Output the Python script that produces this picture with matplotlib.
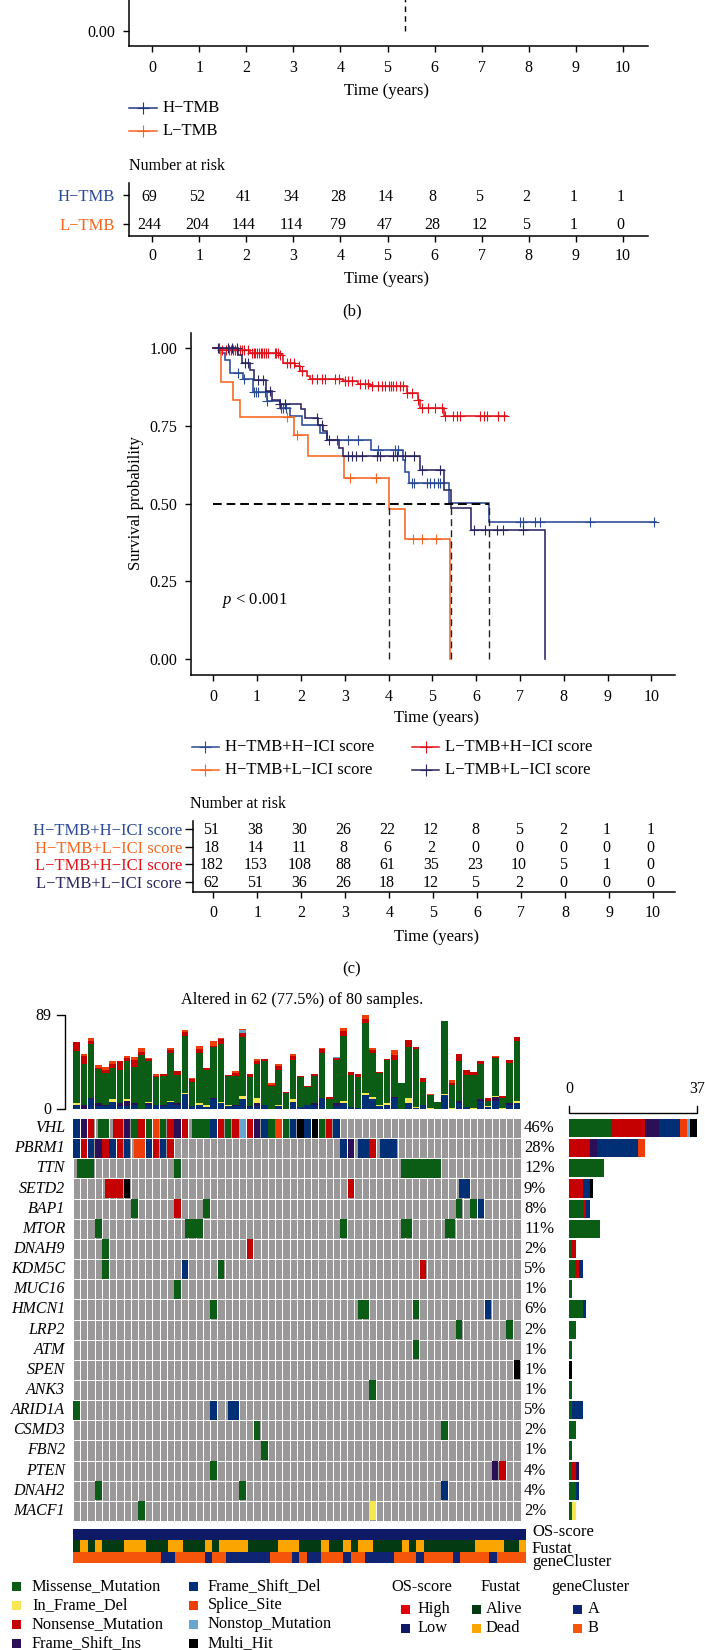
import numpy as np
import matplotlib
matplotlib.use("Agg")
import matplotlib.pyplot as plt
from matplotlib.colors import ListedColormap
from matplotlib.patches import Rectangle

plt.rcParams["font.family"] = ["Liberation Serif", "DejaVu Serif"]
plt.rcParams["mathtext.fontset"] = "custom"
plt.rcParams["mathtext.rm"] = "Liberation Serif"
plt.rcParams["mathtext.it"] = "Liberation Serif:italic"
plt.rcParams["axes.unicode_minus"] = False

W, H = 705, 1650
C_BLUE = "#2a4a96"
C_ORANGE = "#f6651f"
C_RED = "#e0121b"
C_DARK = "#2b2660"

years = np.arange(0, 11)

# panel b number at risk
b_names = ["H\u2212TMB", "L\u2212TMB"]
b_risk_h = [69, 52, 41, 34, 28, 14, 8, 5, 2, 1, 1]
b_risk_l = [244, 204, 144, 114, 79, 47, 28, 12, 5, 1, 0]
b_median = 5.38

# panel c curves
blue_t = [0, .15, .27, .38, .67, .90, 1.22, 1.52, 1.75, 2.02, 2.44, 2.59, 3.60, 4.34, 4.38, 4.46, 5.38, 6.30, 10.1]
blue_s = [1, .984, .960, .920, .900, .857, .831, .807, .780, .753, .727, .703, .673, .641, .601, .567, .502, .441, .441]
blue_c = [.12, .57, .69, .93, .97, 1.03, 1.18, 1.22, 1.54, 1.6, 1.66, 2.82, 3.08, 3.31, 3.77, 4.15, 4.21, 4.53, 4.58,
          4.87, 4.95, 5.04, 5.12, 5.18, 7.0, 7.08, 7.35, 7.46, 8.6, 10.05]

orange_t = [0, .17, .46, .61, 1.85, 2.15, 2.99, 4.0, 4.38, 5.41]
orange_s = [1, .889, .833, .779, .719, .654, .581, .483, .387, 0]
orange_c = [1.68, 1.92, 3.11, 3.72, 4.55, 4.76, 5.09]

red_t = [0, .15, .84, 1.52, 1.60, 1.87, 1.98, 2.13, 2.21, 2.97, 3.31, 3.58, 4.42, 4.68, 4.72, 5.26, 6.70]
red_s = [1, .992, .984, .976, .952, .941, .925, .909, .901, .894, .885, .877, .855, .834, .807, .782, .782]
red_c = [.2, .3, .35, .4, .45, .5, .55, .6, .65, .7, .8, .88, .92, .96, 1.0, 1.04, 1.08, 1.12, 1.16, 1.2, 1.25,
         1.4, 1.44, 1.48, 1.52, 1.68, 1.75, 1.85, 1.95, 2.02, 2.25, 2.36, 2.48, 2.55, 2.78, 2.86, 3.01, 3.08, 3.16,
         3.35, 3.47, 3.54, 3.62, 3.77, 3.85, 3.92, 4.0, 4.05, 4.11, 4.17, 4.26, 4.34, 4.42, 4.53, 4.68, 4.76, 4.91,
         5.06, 5.22, 5.3, 5.48, 5.56, 5.64, 6.09, 6.17, 6.25, 6.51, 6.63]

dark_t = [0, .57, .65, .84, .93, 1.20, 1.33, 1.52, 2.0, 2.09, 2.40, 2.51, 2.59, 2.86, 2.97, 4.72, 5.26, 5.42, 5.88, 7.58]
dark_s = [1, .978, .952, .930, .896, .861, .834, .820, .804, .775, .753, .732, .705, .678, .653, .607, .544, .486, .416, 0]
dark_c = [.11, .34, .43, .53, .72, .80, 1.03, 1.13, 1.29, 1.52, 1.64, 2.36, 2.48, 2.63, 3.08, 3.16, 3.26, 3.39, 3.73,
          3.81, 4.10, 4.19, 4.38, 4.57, 4.76, 5.18, 5.94, 6.21, 6.47, 6.61, 7.07]

median_times = [4.0, 5.42, 6.30]

c_names = ["H\u2212TMB+H\u2212ICI score", "H\u2212TMB+L\u2212ICI score", "L\u2212TMB+H\u2212ICI score", "L\u2212TMB+L\u2212ICI score"]
c_risk_hh = [51, 38, 30, 26, 22, 12, 8, 5, 2, 1, 1]
c_risk_hl = [18, 14, 11, 8, 6, 2, 0, 0, 0, 0, 0]
c_risk_lh = [182, 153, 108, 88, 61, 35, 23, 10, 5, 1, 0]
c_risk_ll = [62, 51, 36, 26, 18, 12, 5, 2, 0, 0, 0]

# oncoplot
genes = ["VHL", "PBRM1", "TTN", "SETD2", "BAP1", "MTOR", "DNAH9", "KDM5C", "MUC16", "HMCN1",
         "LRP2", "ATM", "SPEN", "ANK3", "ARID1A", "CSMD3", "FBN2", "PTEN", "DNAH2", "MACF1"]
gene_pct = [46, 28, 12, 9, 8, 11, 2, 5, 1, 6, 2, 1, 1, 1, 5, 2, 1, 4, 4, 2]
gene_hits = [
    {"M": [3, 4, 8, 10, 12, 16, 17, 18, 21, 27, 29, 34], "N": [2, 5, 6, 9, 13, 15, 20, 22, 24, 35], "I": [1, 7, 14, 25],
     "F": [0, 19, 26, 30, 32, 36], "S": [11, 28], "O": [23], "H": [31, 33]},
    {"N": [1, 4, 6, 11, 13, 41], "I": [3, 38], "F": [0, 2, 5, 7, 10, 12, 37, 39, 40, 42, 43, 44], "S": [8, 9]},
    {"M": [0, 1, 2, 14, 45, 46, 47, 48, 49, 50]},
    {"N": [4, 5, 6, 38], "F": [53, 54], "H": [7]},
    {"M": [8, 18, 53, 55], "N": [14], "F": [56]},
    {"M": [3, 15, 16, 17, 37, 45, 46, 51, 52]},
    {"M": [4], "N": [24]},
    {"M": [4, 20], "N": [48], "F": [15]},
    {"M": [14]},
    {"M": [19, 39, 40, 47], "F": [57]},
    {"M": [53, 60]},
    {"M": [47]},
    {"H": [61]},
    {"M": [41]},
    {"M": [0], "F": [19, 21, 22]},
    {"M": [25, 51]},
    {"M": [26]},
    {"M": [19], "N": [59], "I": [58]},
    {"M": [3, 23], "F": [51]},
    {"M": [9], "Y": [41]},
]
n_samples = 62

# mutation burden per sample
tmb_F = [4, 0, 9, 3, 3, 7, 3, 3, 4, 0, 4, 4, 3, 7, 4, 14, 3, 4, 2, 9, 6, 3, 3, 9, 2, 3, 4, 0, 3, 0, 7,
         2, 4, 4, 10, 0, 3, 6, 2, 1, 13, 9, 3, 4, 10, 0, 6, 1, 4, 0, 0, 13, 0, 6, 2, 0, 8, 2, 8, 0, 4, 6]
tmb_I = [0, 4, 1, 3, 1, 0, 3, 5, 2, 0, 2, 0, 1, 0, 2, 0, 0, 0, 0, 1, 0, 0, 1, 0, 1, 3, 0, 0, 0, 0, 0,
         0, 0, 2, 0, 0, 3, 0, 0, 0, 0, 0, 0, 0, 1, 0, 0, 0, 0, 0, 0, 0, 0, 2, 0, 0, 1, 0, 3, 0, 2, 0]
tmb_Y = [2, 0, 0, 0, 0, 2, 0, 1, 0, 0, 1, 0, 0, 1, 0, 1, 0, 2, 2, 0, 1, 1, 0, 3, 0, 4, 0, 0, 1, 0, 2,
         0, 0, 0, 0, 0, 0, 2, 0, 0, 2, 2, 1, 2, 0, 0, 4, 1, 0, 1, 0, 1, 1, 0, 0, 1, 0, 1, 1, 1, 0, 2]
tmb_M = [49, 39, 52, 32, 30, 30, 31, 36, 34, 51, 38, 26, 27, 45, 26, 54, 23, 47, 33, 49, 55, 27, 27, 56, 27, 33, 41, 22, 33, 15, 37,
         28, 17, 25, 43, 9, 40, 61, 30, 29, 66, 42, 30, 40, 35, 25, 49, 55, 22, 12, 7, 69, 22, 37, 30, 31, 34, 5, 36, 9, 38, 56]
tmb_N = [8, 7, 2, 1, 3, 4, 8, 3, 6, 3, 2, 1, 2, 3, 4, 4, 2, 4, 2, 1, 4, 1, 3, 4, 3, 2, 2, 1, 4, 1, 4,
         1, 1, 2, 4, 2, 2, 5, 3, 3, 4, 3, 1, 1, 5, 0, 6, 2, 3, 0, 0, 0, 2, 7, 5, 3, 2, 2, 1, 2, 2, 4]
tmb_S = [0, 2, 3, 3, 3, 2, 0, 2, 3, 4, 1, 2, 0, 2, 0, 2, 1, 3, 0, 4, 1, 0, 2, 1, 0, 2, 0, 2, 2, 0, 2,
         0, 0, 0, 1, 0, 0, 3, 0, 0, 4, 2, 0, 0, 5, 0, 0, 0, 0, 1, 0, 0, 2, 0, 0, 0, 0, 0, 1, 0, 0, 0]
tmb_O = [0] * 23 + [3] + [0] * 12 + [1] + [0] * 25
tmb_stack = [("F", tmb_F), ("I", tmb_I), ("Y", tmb_Y), ("M", tmb_M), ("N", tmb_N), ("O", tmb_O), ("S", tmb_S)]

mut_colors = {"M": "#0b5c14", "Y": "#f6e651", "N": "#c50000", "I": "#2b0f57", "F": "#002f76",
              "S": "#f03c06", "O": "#6aa5d0", "H": "#000000"}
side_order = ["M", "Y", "N", "I", "F", "S", "O", "H"]
GREY = "#9a9898"

fustat_runs = [1, 1, 1, 1, 3, 3, 3, 2, 3, 1, 1, 4, 4, 3, 3, 1, 2, 1, 1, 2, 4, 1, 1, 1, 7, 4, 2, 1]
cluster_runs = [12, 2, 4, 1, 2, 6, 3, 1, 1, 2, 3, 1, 2, 4, 3, 1, 4, 1, 4, 1, 4]

mut_legend_left = [("Missense_Mutation", "M"), ("In_Frame_Del", "Y"), ("Nonsense_Mutation", "N"), ("Frame_Shift_Ins", "I")]
mut_legend_right = [("Frame_Shift_Del", "F"), ("Splice_Site", "S"), ("Nonstop_Mutation", "O"), ("Multi_Hit", "H")]

TEXT = 12
TICK = 11.5
LEG = 11.8


def ax_px(fig, left, top, right, bottom):
    return fig.add_axes([left / W, 1 - bottom / H, (right - left) / W, (bottom - top) / H])


def txt(fig, x, y, s, **kw):
    kw.setdefault("va", "center")
    kw.setdefault("fontsize", TEXT)
    fig.text(x / W, 1 - y / H, s, **kw)


def style_axis(ax):
    ax.spines["top"].set_visible(False)
    ax.spines["right"].set_visible(False)
    ax.spines["left"].set_linewidth(1.1)
    ax.spines["bottom"].set_linewidth(1.1)
    ax.tick_params(width=1.0, length=4, labelsize=TICK, pad=6)
    ax.patch.set_alpha(0)


def risk_table(fig, box, xlim, ylim, names, rows, colors, pad, ylen=4):
    ax = ax_px(fig, *box)
    style_axis(ax)
    ax.set_xlim(*xlim)
    ax.set_ylim(*ylim)
    ax.set_xticks(years)
    ax.set_yticks(range(len(rows)))
    ax.set_yticklabels(names, fontsize=TEXT)
    for lab, c in zip(ax.get_yticklabels(), colors):
        lab.set_color(c)
    ax.tick_params(axis="y", pad=pad, length=ylen)
    ax.tick_params(axis="x", pad=5)
    for i, row in enumerate(rows):
        for t, v in zip(years, row):
            ax.text(t - 0.05, i + 0.05, str(v), ha="center", va="center", fontsize=TICK)
    return ax


def km_curve(ax, t, s, cens, color):
    ax.step(t, s, where="post", color=color, lw=1.15, solid_joinstyle="miter")
    idx = np.searchsorted(t, cens, side="right") - 1
    ax.plot(cens, np.array(s)[idx], ls="none", marker="+", ms=7, mew=0.8, color=color)


fig = plt.figure(figsize=(W / 100, H / 100), dpi=100)

# ---- panel b, only the bottom of the curve plot is in the crop
ax = ax_px(fig, 129, 0, 648, 46)
style_axis(ax)
ax.set_xlim(-0.49, 10.53)
ax.set_ylim(-15 / 311, 31 / 311)
ax.set_xticks(years)
ax.set_yticks([0])
ax.set_yticklabels(["0.00"])
ax.plot([b_median, b_median], [0, 1], color="black", lw=1.0, ls=(0, (4, 3)))
txt(fig, 387, 91, "Time (years)", ha="center")

for y, c, name in [(108, "#20357f", b_names[0]), (131, C_ORANGE, b_names[1])]:
    fig.add_artist(plt.Line2D([129 / W, 157 / W], [1 - y / H] * 2, color=c, lw=1.1))
    fig.add_artist(plt.Line2D([143 / W], [1 - y / H], color=c, marker="+", ms=8, mew=0.8))
    txt(fig, 163, y, name)
txt(fig, 129, 166, "Number at risk", fontsize=11.5)
risk_table(fig, (129, 183, 648, 236), (-0.49, 10.53), (1.446, -0.446), b_names, [b_risk_h, b_risk_l],
           [C_BLUE, C_ORANGE], 6)
txt(fig, 387, 279, "Time (years)", ha="center")
txt(fig, 352, 311, "(b)", ha="center")

# ---- panel c
ax = ax_px(fig, 191, 333, 675, 675)
style_axis(ax)
ax.set_xlim(-0.51, 10.54)
ax.set_ylim(-0.051, 1.048)
ax.set_xticks(years)
ax.set_yticks([0, .25, .5, .75, 1])
ax.set_yticklabels(["0.00", "0.25", "0.50", "0.75", "1.00"])
km_curve(ax, blue_t, blue_s, blue_c, C_BLUE)
km_curve(ax, orange_t, orange_s, orange_c, C_ORANGE)
km_curve(ax, red_t, red_s, red_c, C_RED)
km_curve(ax, dark_t, dark_s, dark_c, C_DARK)
ax.plot([0, max(median_times)], [0.5, 0.5], color="black", lw=1.4, ls=(0, (4.5, 2.5)))
for m in median_times:
    ax.plot([m, m], [0, 0.5], color="#222222", lw=1.0, ls=(0, (5, 3)))
txt(fig, 136, 503, "Survival probability", rotation=90, ha="center")
ax.text(0.2, 0.19, r"$\mathit{p}$ < 0.001", fontsize=TEXT, va="center")
txt(fig, 436, 718, "Time (years)", ha="center")

for x0, y, c, name in [(192, 747, C_BLUE, c_names[0]), (192, 770, C_ORANGE, c_names[1]),
                       (412, 747, C_RED, c_names[2]), (412, 770, C_DARK, c_names[3])]:
    fig.add_artist(plt.Line2D([x0 / W, (x0 + 27) / W], [1 - y / H] * 2, color=c, lw=1.1))
    fig.add_artist(plt.Line2D([(x0 + 13.5) / W], [1 - y / H], color=c, marker="+", ms=8, mew=0.8))
    txt(fig, x0 + 33, y, name)
txt(fig, 190, 804, "Number at risk", fontsize=11.5)
risk_table(fig, (193, 821, 675, 892), (-0.466, 10.5), (3.566, -0.45), c_names,
           [c_risk_hh, c_risk_hl, c_risk_lh, c_risk_ll], [C_BLUE, C_ORANGE, C_RED, C_DARK], 2, ylen=6)
txt(fig, 436, 937, "Time (years)", ha="center")
txt(fig, 352, 969, "(c)", ha="center")

# ---- oncoplot: title and burden bars
txt(fig, 302, 1000, "Altered in 62 (77.5%) of 80 samples.", ha="center", fontsize=11.7)
ax = ax_px(fig, 73, 1015, 520.5, 1109)
samples = np.arange(n_samples)
bottom = np.zeros(n_samples)
for code, vals in tmb_stack:
    ax.bar(samples, vals, bottom=bottom, width=0.92, color=mut_colors[code], lw=0)
    bottom += np.array(vals)
ax.set_xlim(-0.5, n_samples - 0.5)
ax.set_ylim(0, 89)
ax.axis("off")
fig.add_artist(plt.Line2D([57 / W, 65 / W, 65 / W, 57 / W], [1 - 1015 / H, 1 - 1015 / H, 1 - 1109 / H, 1 - 1109 / H],
                          color="black", lw=1.0))
txt(fig, 51, 1016, "89", ha="right", fontsize=TICK)
txt(fig, 51, 1110, "0", ha="right", fontsize=TICK)

# ---- mutation matrix
ax = ax_px(fig, 73, 1118, 520.5, 1521)
ax.pcolormesh(np.arange(n_samples + 1) - 0.5, np.arange(len(genes) + 1) - 0.5, np.zeros((len(genes), n_samples)),
              cmap=ListedColormap([GREY]), edgecolors="white", linewidth=0.55)
for row, hits in enumerate(gene_hits):
    by_col = {c: code for code, cols in hits.items() for c in cols}
    for c, code in by_col.items():
        w = 1.0 if by_col.get(c + 1) == code else 0.9
        ax.bar(c, 0.95, width=w, bottom=row - 0.475, align="edge" if w == 1.0 else "center",
               color=mut_colors[code], lw=0)
ax.set_xlim(-0.5, n_samples - 0.5)
ax.set_ylim(len(genes) - 0.5, -0.5)
ax.axis("off")
for row, (g, p) in enumerate(zip(genes, gene_pct)):
    y = 1118 + (row + 0.5) * 403 / len(genes)
    txt(fig, 65, y, g, ha="right", style="italic", fontsize=11.5)
    txt(fig, 524, y, f"{p}%", fontsize=TEXT)

# ---- side bars
ax = ax_px(fig, 569, 1118, 697.3, 1521)
for row, hits in enumerate(gene_hits):
    left = 0
    for code in side_order:
        n = len(hits.get(code, []))
        if n:
            ax.barh(row, n, left=left, height=0.9, color=mut_colors[code], lw=0)
            left += n
ax.set_xlim(0, 37)
ax.set_ylim(len(genes) - 0.5, -0.5)
ax.axis("off")
fig.add_artist(plt.Line2D([569 / W, 569 / W, 697 / W, 697 / W], [1 - 1106 / H, 1 - 1113 / H, 1 - 1113 / H, 1 - 1106 / H],
                          color="black", lw=1.0))
txt(fig, 569, 1089, "0", ha="center", fontsize=TICK)
txt(fig, 697, 1089, "37", ha="center", fontsize=TICK)

# ---- annotation strips
fustat = np.repeat(np.arange(len(fustat_runs)) % 2, fustat_runs)
cluster = np.repeat(np.arange(len(cluster_runs)) % 2, cluster_runs)
os_score = np.zeros(n_samples, dtype=int)
for vals, cols, top, bot in [(os_score, ["#0e1a66"], 1529, 1540),
                             (fustat, ["#033a12", "#fba600"], 1540, 1552),
                             (cluster, ["#f4550a", "#0f2472"], 1552, 1563)]:
    ax = ax_px(fig, 73, top, 526, bot)
    ax.imshow(vals[None, :], aspect="auto", cmap=ListedColormap(cols), interpolation="nearest")
    ax.axis("off")
txt(fig, 532, 1532, "OS-score")
txt(fig, 532, 1549, "Fustat")
txt(fig, 532, 1562, "geneCluster")


def swatch(x, y, c, size=9):
    fig.add_artist(Rectangle((x / W, 1 - (y + size / 2) / H), size / W, size / H, color=c, lw=0,
                             transform=fig.transFigure))


for i, (name, code) in enumerate(mut_legend_left):
    y = 1586 + i * 19
    swatch(12, y, mut_colors[code])
    txt(fig, 32, y, name, fontsize=LEG)
for i, (name, code) in enumerate(mut_legend_right):
    y = 1586 + i * 19
    swatch(189, y, mut_colors[code])
    txt(fig, 208, y, name, fontsize=LEG)

txt(fig, 422, 1587, "OS-score", ha="center", fontsize=LEG)
txt(fig, 501, 1587, "Fustat", ha="center", fontsize=LEG)
txt(fig, 590, 1587, "geneCluster", ha="center", fontsize=LEG)
for x, tx, names, cols in [(401, 417, ["High", "Low"], ["#e00010", "#0e1a66"]),
                           (472, 486, ["Alive", "Dead"], ["#033a12", "#fba600"]),
                           (573, 588, ["A", "B"], ["#0f2472", "#f4550a"])]:
    for y, n, c in zip([1609, 1628], names, cols):
        swatch(x, y, c)
        txt(fig, tx, y, n, fontsize=LEG)

fig.savefig("out.png", dpi=100)
